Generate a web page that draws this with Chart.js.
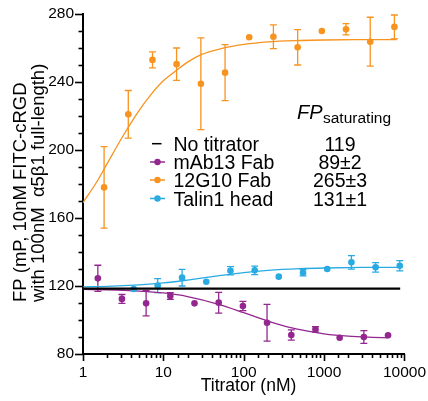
<!DOCTYPE html>
<html><head><meta charset="utf-8">
<script src="https://cdn.jsdelivr.net/npm/chart.js@4"></script>
<style>html,body{margin:0;padding:0;background:#fff}#wrap{width:428px;height:401px;position:relative}</style>
</head><body><div id="wrap"><canvas id="c" width="428" height="401"></canvas></div>
<script>
// ---- data ----
const orangeX = [1.83, 3.66, 7.32, 14.6, 29.3, 58.6, 117, 234, 469, 938, 1875, 3750, 7500];
const orangeY = [178, 221, 253, 250.5, 239, 245.5, 266.3, 266.6, 260.4, 270, 271, 263.7, 272.4];
const orangeErr = [24, 14, 4.7, 9.5, 27, 16.5, 0, 7, 10.4, 0, 3.3, 14.4, 7];

const purpleX = [1.53, 3.05, 6.1, 12.2, 24.4, 48.8, 97.7, 195, 391, 781, 1563, 3125, 6250];
const purpleY = [124.5, 112.4, 109.8, 114.1, 109.8, 110.2, 108.2, 98.4, 91.2, 94.5, 89.6, 90, 91];
const purpleErr = [7.7, 2.6, 7.4, 2, 0, 6.1, 2.7, 10.8, 3, 1.6, 0, 3.8, 0];

const blueX = [4.27, 8.5, 17.1, 34.2, 68.4, 137, 273, 547, 1094, 2188, 4375, 8750];
const blueY = [118.2, 120.2, 124.9, 122.5, 129, 129.2, 125.5, 127.8, 130, 133.9, 131, 131.9];
const blueErr = [0, 4.1, 4.9, 0, 2.4, 2.5, 0, 1.9, 0, 4, 2.8, 3];

// fitted curves
const orangeFitX = [1, 1.5, 2, 3, 5, 7, 10, 15, 20, 30, 50, 100, 200, 500, 1000, 3000, 8000];
const orangeFitY = [169, 181.6, 192, 206.6, 223.3, 232.6, 240.7, 247.3, 251.7, 256.2, 259.4, 262.1, 263.6, 264.4, 264.7, 264.9, 265];
const purpleFitX = [1, 2, 5, 10, 20, 50, 100, 150, 200, 300, 500, 1000, 2000, 4000, 6250];
const purpleFitY = [118.0, 117.8, 117.0, 115.9, 113.8, 109.1, 104.3, 101.4, 99.4, 96.9, 94.3, 91.9, 90.5, 89.8, 89.5];
const blueFitX = [1, 2, 5, 10, 20, 50, 100, 200, 500, 1000, 3000, 8750];
const blueFitY = [119.5, 119.8, 120.7, 121.8, 123.5, 126.1, 127.9, 129.2, 130.2, 130.6, 130.9, 131.0];
const noTitratorX = [1, 8850];
const noTitratorY = [118.5, 118.5];

const legendLabels = ['No titrator', 'mAb13 Fab', '12G10 Fab', 'Talin1 head'];
const saturatingValues = ['119', '89\u00b12', '265\u00b13', '131\u00b11'];
const xTickLabels = ['1', '10', '100', '1000', '10000'];
const yTickLabels = ['80', '120', '160', '200', '240', '280'];

const BLACK = '#000000', PURPLE = '#93278F', ORANGE = '#F7931E', BLUE = '#29ABE2';
const legendColors = [BLACK, PURPLE, ORANGE, BLUE];
const FONT = "'Liberation Sans', Arial, Helvetica, sans-serif";

const pts = (xs, ys) => xs.map((x, i) => ({x, y: ys[i]}));

const errorBars = {
  id: 'errorBars',
  beforeDatasetsDraw(chart) {
    const ctx = chart.ctx, xs = chart.scales.x, ys = chart.scales.y;
    chart.data.datasets.forEach(ds => {
      if (!ds.errors) return;
      ctx.save();
      ctx.strokeStyle = ds.pointBackgroundColor;
      ctx.lineWidth = 1.3;
      ds.data.forEach((p, i) => {
        const e = ds.errors[i];
        if (!e) return;
        const px = xs.getPixelForValue(p.x);
        const y1 = ys.getPixelForValue(p.y + e), y2 = ys.getPixelForValue(p.y - e);
        ctx.beginPath();
        ctx.moveTo(px, y1); ctx.lineTo(px, y2);
        ctx.moveTo(px - 3.5, y1); ctx.lineTo(px + 3.5, y1);
        ctx.moveTo(px - 3.5, y2); ctx.lineTo(px + 3.5, y2);
        ctx.stroke();
      });
      ctx.restore();
    });
  }
};

const axisTicks = {
  id: 'axisTicks',
  afterDraw(chart) {
    const ctx = chart.ctx, xs = chart.scales.x, ys = chart.scales.y, a = chart.chartArea;
    ctx.save();
    ctx.strokeStyle = '#000'; ctx.lineWidth = 1.6;
    ys.ticks.forEach(t => {
      const y = Math.round(ys.getPixelForValue(t.value)) + 0.5;
      const len = (Math.round(t.value) % 40 === 0) ? 8 : 4.5;
      ctx.beginPath(); ctx.moveTo(a.left - len, y); ctx.lineTo(a.left, y); ctx.stroke();
    });
    xs.ticks.forEach(t => {
      const x = Math.round(xs.getPixelForValue(t.value)) + 0.5;
      const l = Math.log10(t.value);
      const len = Math.abs(l - Math.round(l)) < 1e-6 ? 7 : 4;
      ctx.beginPath(); ctx.moveTo(x, a.bottom); ctx.lineTo(x, a.bottom + len); ctx.stroke();
    });
    ctx.restore();
  }
};

const texts = {
  id: 'texts',
  afterDraw(chart) {
    const ctx = chart.ctx;
    ctx.save();
    ctx.fillStyle = '#000';
    // y title (two lines, rotated, starting at the same height)
    ctx.font = '18.5px ' + FONT;
    ctx.textAlign = 'left'; ctx.textBaseline = 'alphabetic';
    ctx.save(); ctx.translate(25.5, 302); ctx.rotate(-Math.PI / 2);
    ctx.fillText('FP (mP, 10nM FITC-cRGD', 0, 0); ctx.restore();
    ctx.save(); ctx.translate(43.5, 302); ctx.rotate(-Math.PI / 2);
    ctx.fillText('with 100nM  \u03b15\u03b21 full-length)', 0, 0); ctx.restore();
    // x title
    ctx.textAlign = 'center';
    ctx.font = '17.5px ' + FONT;
    ctx.fillText('Titrator (nM)', 248.5, 391);
    // FP saturating header
    ctx.textAlign = 'left';
    ctx.font = 'italic 20px ' + FONT;
    ctx.fillText('FP', 297, 119.3);
    ctx.font = '15.5px ' + FONT;
    ctx.fillText('saturating', 323, 123.3);
    // legend rows
    const baselines = [150.7, 169, 187, 205.5];
    legendLabels.forEach((lab, i) => {
      const cy = baselines[i] - 7;
      ctx.strokeStyle = legendColors[i];
      ctx.fillStyle = legendColors[i];
      if (i === 0) {
        ctx.lineWidth = 1.5;
        ctx.beginPath(); ctx.moveTo(152, cy); ctx.lineTo(161.5, cy); ctx.stroke();
      } else {
        ctx.lineWidth = 1.5;
        ctx.beginPath(); ctx.moveTo(150, cy); ctx.lineTo(165, cy); ctx.stroke();
        ctx.beginPath(); ctx.arc(157.5, cy, 3.2, 0, Math.PI * 2); ctx.fill();
      }
      ctx.fillStyle = '#000';
      ctx.font = '19.5px ' + FONT;
      ctx.textAlign = 'left';
      ctx.fillText(lab, 173.5, baselines[i]);
      ctx.textAlign = 'center';
      ctx.fillText(saturatingValues[i], 340, baselines[i]);
    });
    ctx.restore();
  }
};

const curve = (xs, ys, color, w) => ({
  type: 'scatter', data: pts(xs, ys), showLine: true, borderColor: color, borderWidth: w,
  pointRadius: 0, fill: false, cubicInterpolationMode: 'monotone'
});
const scatterSet = (xs, ys, errs, color) => ({
  type: 'scatter', data: pts(xs, ys), errors: errs, showLine: false,
  pointRadius: 3.3, pointBorderWidth: 0, pointBackgroundColor: color, pointBorderColor: color
});

new Chart(document.getElementById('c'), {
  type: 'scatter',
  data: {
    datasets: [
      curve(noTitratorX, noTitratorY, BLACK, 2.2),
      scatterSet(purpleX, purpleY, purpleErr, PURPLE),
      scatterSet(orangeX, orangeY, orangeErr, ORANGE),
      scatterSet(blueX, blueY, blueErr, BLUE),
      curve(purpleFitX, purpleFitY, PURPLE, 1.3),
      curve(orangeFitX, orangeFitY, ORANGE, 1.3),
      curve(blueFitX, blueFitY, BLUE, 1.3)
    ]
  },
  options: {
    responsive: false, animation: false, devicePixelRatio: 1,
    layout: {padding: {left: 0, right: 21, top: 14, bottom: 0}},
    plugins: {legend: {display: false}, tooltip: {enabled: false}},
    scales: {
      x: {
        type: 'logarithmic', min: 1, max: 10000,
        afterFit(s) { s.height = 47; },
        grid: {display: true, drawOnChartArea: false, drawTicks: true, tickLength: 7, color: 'rgba(0,0,0,0)'},
        border: {display: true, color: '#000', width: 2},
        ticks: {
          autoSkip: false, maxRotation: 0, minRotation: 0, padding: 2, color: '#000',
          font: {family: FONT, size: 15.5},
          callback(v) {
            const s = String(Math.round(v));
            return xTickLabels.includes(s) && Math.abs(v - Math.round(v)) < 1e-6 ? s : '';
          }
        }
      },
      y: {
        min: 80, max: 280,
        afterFit(s) { s.width = 83; },
        grid: {display: true, drawOnChartArea: false, drawTicks: true, tickLength: 8, color: 'rgba(0,0,0,0)'},
        border: {display: true, color: '#000', width: 2},
        ticks: {
          stepSize: 10, autoSkip: false, padding: 1, color: '#000',
          font: {family: FONT, size: 15.5},
          callback(v) { const s = String(Math.round(v)); return yTickLabels.includes(s) ? s : ''; }
        }
      }
    }
  },
  plugins: [errorBars, axisTicks, texts]
});
</script></body></html>
